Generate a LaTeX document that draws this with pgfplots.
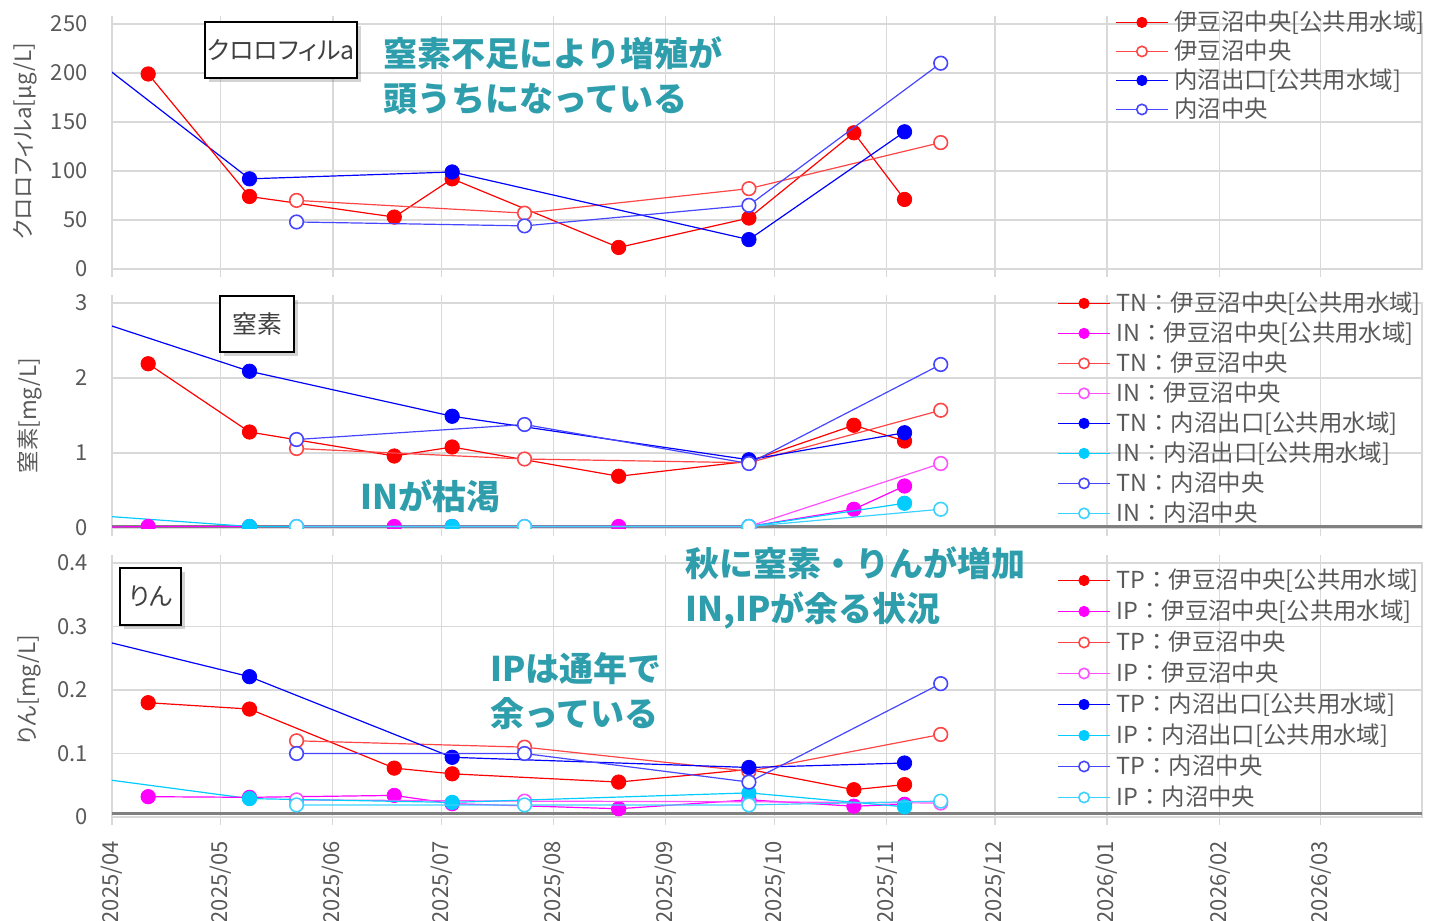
\documentclass[border=0pt]{standalone}
\usepackage{fontspec}
\setmainfont{Noto Sans CJK JP}
\newfontfamily\jpp[RawFeature=+palt]{Noto Sans CJK JP}
\usepackage{pgfplots}
\pgfplotsset{compat=1.18}
\usetikzlibrary{shadows}
\definecolor{gridgray}{RGB}{217,217,217}
\definecolor{txtgray}{RGB}{89,89,89}
\definecolor{boxtxt}{RGB}{64,64,64}
\definecolor{axgray}{RGB}{128,128,128}
\definecolor{tealtxt}{RGB}{46,158,172}
\definecolor{cR}{RGB}{255,0,0}
\definecolor{cRl}{RGB}{255,70,70}
\definecolor{cM}{RGB}{255,0,255}
\definecolor{cMl}{RGB}{255,80,255}
\definecolor{cB}{RGB}{0,0,255}
\definecolor{cBl}{RGB}{70,70,255}
\definecolor{cC}{RGB}{0,204,255}
\definecolor{cCl}{RGB}{60,210,255}
\pgfplotsset{
  rf/.style={color=#1, line width=0.6bp, mark=*, mark size=3.6bp, mark options={fill=#1, draw=#1, line width=0.4bp, solid}},
  ro/.style={color=#1, line width=0.6bp, mark=*, mark size=3.4bp, mark options={fill=white, draw=#1, line width=0.8bp, solid}},
  lead/.style={color=#1, line width=0.6bp, no marks, forget plot},
  base/.style={
    scale only axis, width=655bp,
    xmin=0, xmax=362,
    xtick={0,30,61,91,122,153,183,214,244,275,306,334},
    grid=major,
    major grid style={draw=gridgray, line width=0.75bp},
    axis line style={draw=gridgray, line width=0.75bp},
    tick align=outside,
    major tick length=4bp,
    xtick style={draw=gridgray, line width=0.75bp},
    ytick style={draw=none},
    tick label style={font=\fontsize{11bp}{13bp}\selectfont, text=txtgray},
    yticklabel style={inner sep=0pt},
    yticklabel shift=8bp,
    xticklabel style={inner sep=0pt, rotate=90, anchor=east},
    xticklabel shift=8bp,
    label style={font=\jpp\fontsize{11.2bp}{13bp}\selectfont, text=txtgray},
    clip marker paths=true,
    legend cell align=left,
    legend style={draw=none, fill=none, anchor=north west, inner sep=0pt,
      font=\fontsize{11.7bp}{13bp}\selectfont, text=txtgray,
      nodes={inner sep=0pt, text height=10.5bp, text depth=2bp},
      /tikz/every odd column/.append style={column sep=3bp}},
    legend image code/.code={\draw[mark repeat=2, mark phase=2, mark size=2.6bp] plot coordinates {(0bp,0bp) (13bp,0bp) (26bp,0bp)};},
  },
}
\tikzset{
  boxlab/.style={draw=black, line width=1.2bp, fill=white, inner sep=0pt,
    drop shadow={opacity=0.35, shadow xshift=2bp, shadow yshift=-2bp},
    font=\jpp\fontsize{12.4bp}{15bp}\selectfont, text=boxtxt},
  note/.style={anchor=base west, inner sep=0pt, text=tealtxt, font=\bfseries\fontsize{17bp}{20bp}\selectfont},
}
\begin{document}
\begin{tikzpicture}
\path[use as bounding box] (0bp,0bp) rectangle (715bp,-460.5bp);
% ---------------- top: chlorophyll
\begin{axis}[base, at={(56bp,-12bp)}, anchor=north west, height=122.5bp,
  ymin=0, ymax=250, ytick={0,50,100,150,200,250}, yticklabels={0,50,100,150,200,250},
  xticklabels={},
  ylabel={クロロフィルa[μg/L]},
  ylabel style={at={(axis description cs:-0.066,0.52)}, anchor=center},
  legend style={at={(axis description cs:0.7656,1.059)}, row sep=2bp},
]
\addplot[lead=cB] coordinates {(-20,258) (38,92)};
\addplot[rf=cR] coordinates {(10,199) (38,74) (78,53) (94,92) (140,22) (176,52) (205,139) (219,71)};
\addlegendentry{伊豆沼中央[公共用水域]}
\addplot[ro=cRl] coordinates {(51,70) (114,57) (176,82) (229,129)};
\addlegendentry{伊豆沼中央}
\addplot[rf=cB] coordinates {(38,92) (94,99) (176,30) (219,140)};
\addlegendentry{内沼出口[公共用水域]}
\addplot[ro=cBl] coordinates {(51,48) (114,44) (176,65) (229,210)};
\addlegendentry{内沼中央}
\end{axis}
% ---------------- middle: nitrogen
\begin{axis}[base, at={(56bp,-151.5bp)}, anchor=north west, height=112.5bp,
  ymin=0, ymax=3, ytick={0,1,2,3}, yticklabels={0,1,2,3},
  extra y ticks={0.02}, extra y tick labels={},
  extra y tick style={grid=major, major grid style={draw=axgray, line width=1.4bp}},
  xticklabels={},
  ylabel={窒素[mg/L]},
  ylabel style={at={(axis description cs:-0.063,0.5)}, anchor=center},
  legend style={at={(axis description cs:0.7214,1.0556)}, row sep=2.5bp},
]
\addplot[lead=cM] coordinates {(-20,0.0) (10,0.02)};
\addplot[lead=cB] coordinates {(-20,3.01) (38,2.09)};
\addplot[lead=cC] coordinates {(-20,0.22) (38,0.02)};
\addplot[rf=cR] coordinates {(10,2.19) (38,1.28) (78,0.96) (94,1.08) (140,0.69) (176,0.89) (205,1.37) (219,1.16)};
\addlegendentry{TN：伊豆沼中央[公共用水域]}
\addplot[rf=cM] coordinates {(10,0.02) (38,0.02) (78,0.02) (94,0.02) (140,0.02) (176,0.02) (205,0.25) (219,0.56)};
\addlegendentry{IN：伊豆沼中央[公共用水域]}
\addplot[ro=cRl] coordinates {(51,1.06) (114,0.92) (176,0.87) (229,1.57)};
\addlegendentry{TN：伊豆沼中央}
\addplot[ro=cMl] coordinates {(51,0.02) (114,0.02) (176,0.02) (229,0.86)};
\addlegendentry{IN：伊豆沼中央}
\addplot[rf=cB] coordinates {(38,2.09) (94,1.49) (176,0.91) (219,1.27)};
\addlegendentry{TN：内沼出口[公共用水域]}
\addplot[rf=cC] coordinates {(38,0.02) (94,0.02) (176,0.02) (219,0.33)};
\addlegendentry{IN：内沼出口[公共用水域]}
\addplot[ro=cBl] coordinates {(51,1.18) (114,1.38) (176,0.86) (229,2.18)};
\addlegendentry{TN：内沼中央}
\addplot[ro=cCl] coordinates {(51,0.02) (114,0.02) (176,0.02) (229,0.25)};
\addlegendentry{IN：内沼中央}
\end{axis}
% ---------------- bottom: phosphorus
\begin{axis}[base, at={(56bp,-281.5bp)}, anchor=north west, height=127bp,
  ymin=0, ymax=0.4, ytick={0,0.1,0.2,0.3,0.4}, yticklabels={0,0.1,0.2,0.3,0.4},
  extra y ticks={0.006}, extra y tick labels={},
  extra y tick style={grid=major, major grid style={draw=axgray, line width=1.4bp}},
  xticklabels={2025/04,2025/05,2025/06,2025/07,2025/08,2025/09,2025/10,2025/11,2025/12,2026/01,2026/02,2026/03},
  ylabel={りん[mg/L]},
  ylabel style={at={(axis description cs:-0.063,0.5)}, anchor=center},
  legend style={at={(axis description cs:0.7214,0.982)}, row sep=3bp},
]
\addplot[lead=cB] coordinates {(-20,0.302) (38,0.221)};
\addplot[lead=cC] coordinates {(-20,0.073) (38,0.029)};
\addplot[rf=cR] coordinates {(10,0.180) (38,0.170) (78,0.077) (94,0.068) (140,0.055) (176,0.075) (205,0.043) (219,0.051)};
\addlegendentry{TP：伊豆沼中央[公共用水域]}
\addplot[rf=cM] coordinates {(10,0.032) (38,0.031) (78,0.034) (94,0.021) (140,0.013) (176,0.027) (205,0.017) (219,0.020)};
\addlegendentry{IP：伊豆沼中央[公共用水域]}
\addplot[ro=cRl] coordinates {(51,0.120) (114,0.110) (176,0.072) (229,0.130)};
\addlegendentry{TP：伊豆沼中央}
\addplot[ro=cMl] coordinates {(51,0.027) (114,0.025) (176,0.024) (229,0.022)};
\addlegendentry{IP：伊豆沼中央}
\addplot[rf=cB] coordinates {(38,0.221) (94,0.094) (176,0.078) (219,0.085)};
\addlegendentry{TP：内沼出口[公共用水域]}
\addplot[rf=cC] coordinates {(38,0.029) (94,0.023) (176,0.038) (219,0.016)};
\addlegendentry{IP：内沼出口[公共用水域]}
\addplot[ro=cBl] coordinates {(51,0.100) (114,0.100) (176,0.055) (229,0.210)};
\addlegendentry{TP：内沼中央}
\addplot[ro=cCl] coordinates {(51,0.019) (114,0.019) (176,0.019) (229,0.025)};
\addlegendentry{IP：内沼中央}
\end{axis}
% ---------------- boxes and notes
\node[boxlab, minimum width=76bp, minimum height=28bp] at (140.5bp,-25bp) {クロロフィルa};
\node[boxlab, minimum width=37bp, minimum height=28bp] at (128.5bp,-162bp) {窒素};
\node[boxlab, minimum width=30.5bp, minimum height=28.5bp] at (75.25bp,-298.25bp) {りん};
\node[note] at (191.5bp,-33bp) {窒素不足により増殖が};
\node[note] at (191.5bp,-55.5bp) {頭うちになっている};
\node[note] at (180bp,-254.5bp) {INが枯渇};
\node[note] at (342.5bp,-288bp) {秋に窒素・りんが増加};
\node[note] at (342.5bp,-310.5bp) {IN,IPが余る状況};
\node[note] at (245bp,-340.5bp) {IPは通年で};
\node[note] at (245bp,-363bp) {余っている};
\end{tikzpicture}
\end{document}
